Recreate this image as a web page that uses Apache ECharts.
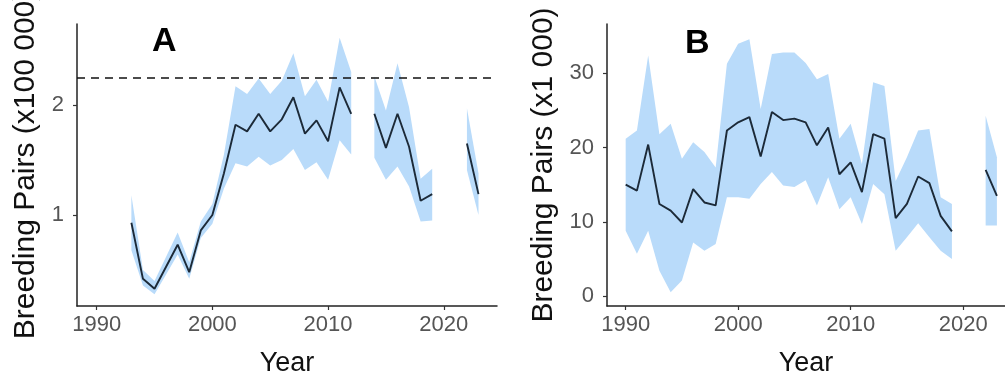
<!DOCTYPE html>
<html><head><meta charset="utf-8">
<script src="https://cdn.jsdelivr.net/npm/echarts@6/dist/echarts.min.js"></script>
<style>html,body{margin:0;padding:0;background:#fff}#c{width:1005px;height:383px}</style>
</head><body><div id="c"></div>
<script>
// ---- Panel A data (x100 000 pairs) ----
const yearsA = [1993,1994,1995,1996,1997,1998,1999,2000,2001,2002,2003,2004,2005,2006,2007,2008,2009,2010,2011,2012,2013,2014,2015,2016,2017,2018,2019,2020,2021,2022,2023];
const pairsA = [0.93,0.42,0.33,0.53,0.73,0.48,0.86,1.00,1.38,1.82,1.76,1.92,1.76,1.87,2.07,1.74,1.86,1.67,2.16,1.92,null,1.92,1.61,1.92,1.62,1.13,1.19,null,null,1.65,1.19];
const lowA   = [0.68,0.36,0.28,0.46,0.64,0.42,0.79,0.92,1.24,1.47,1.44,1.53,1.45,1.50,1.60,1.41,1.48,1.32,1.68,1.55,null,1.52,1.32,1.44,1.26,0.94,0.95,null,null,1.41,1.00];
const highA  = [1.18,0.50,0.40,0.62,0.84,0.57,0.94,1.10,1.55,2.17,2.10,2.24,2.10,2.22,2.47,2.08,2.23,2.03,2.61,2.30,null,2.26,1.95,2.38,1.98,1.33,1.42,null,null,1.97,1.38];
const refLineA = [2.25];
// ---- Panel B data (x1 000 pairs) ----
const yearsB = [1990,1991,1992,1993,1994,1995,1996,1997,1998,1999,2000,2001,2002,2003,2004,2005,2006,2007,2008,2009,2010,2011,2012,2013,2014,2015,2016,2017,2018,2019,2020,2021,2022,2023];
const pairsB = [15.0,14.2,20.4,12.4,11.5,9.9,14.4,12.6,12.2,22.3,23.4,24.1,18.8,24.8,23.7,23.9,23.4,20.3,22.7,16.4,18.0,14.0,21.8,21.2,10.5,12.4,16.1,15.2,10.8,8.7,null,null,17.0,13.5];
const lowB   = [8.8,5.7,8.8,3.4,0.5,2.1,7.2,6.1,7.0,13.3,13.3,13.1,15.1,16.7,14.9,14.7,15.6,12.2,16.0,11.7,13.3,9.7,15.1,13.7,6.1,7.9,9.8,7.9,6.1,5.0,null,null,9.5,9.5];
const highB  = [21.2,22.3,32.4,21.8,23.2,18.5,20.7,19.4,17.3,31.3,34.0,34.6,25.2,32.6,32.8,32.8,31.4,29.2,29.9,21.2,23.2,17.8,28.8,28.3,15.5,18.7,22.3,22.5,13.3,12.4,null,null,24.3,18.7];
// ---- ticks / labels ----
const xTicks = [1990,2000,2010,2020];
const yTicksA = [1,2];
const yTicksB = [0,10,20,30];
const panelLabels = ['A','B'];
const xTitle = 'Year';
const yTitleA = 'Breeding Pairs (x100 000)';
const yTitleB = 'Breeding Pairs (x1 000)';

const FONT = "'Liberation Sans', Arial, sans-serif";
const BAND = '#b9dbfa';
const LINE = '#1c2a38';

function bandSeries(years, low, high, idx) {
  return {
    type: 'custom', xAxisIndex: idx, yAxisIndex: idx, silent: true, z: 1,
    clip: true,
    encode: {x: 0, y: [1, 2]},
    data: years.map((y, i) => [y, low[i] == null ? '-' : low[i], high[i] == null ? '-' : high[i]]),
    renderItem: function (params, api) {
      const i = params.dataIndex;
      if (low[i] == null || (i > 0 && low[i - 1] != null)) return null;
      let j = i;
      while (j + 1 < years.length && low[j + 1] != null) j++;
      const pts = [];
      for (let k = i; k <= j; k++) pts.push(api.coord([years[k], high[k]]));
      for (let k = j; k >= i; k--) pts.push(api.coord([years[k], low[k]]));
      return {type: 'polygon', shape: {points: pts}, style: {fill: BAND, stroke: null}};
    }
  };
}

function lineSeries(years, vals, idx, extra) {
  return Object.assign({
    type: 'line', xAxisIndex: idx, yAxisIndex: idx, silent: true, z: 3,
    symbol: 'none', connectNulls: false,
    lineStyle: {color: LINE, width: 1.9},
    data: years.map((y, i) => [y, vals[i]])
  }, extra || {});
}

function xAxis(idx, min, max) {
  return {
    type: 'value', gridIndex: idx, min: min, max: max,
    name: xTitle, nameLocation: 'middle', nameGap: 44,
    nameTextStyle: {fontFamily: FONT, fontSize: 27, color: '#111'},
    axisLine: {show: true, onZero: false, lineStyle: {color: '#222', width: 1.5}},
    axisTick: {show: true, length: 4, customValues: xTicks, lineStyle: {color: '#333', width: 1.2}},
    axisLabel: {customValues: xTicks, margin: 8, fontFamily: FONT, fontSize: 22, color: '#555',
      formatter: v => String(v)},
    splitLine: {show: false}
  };
}
function yAxis(idx, min, max, ticks, title, gap) {
  return {
    type: 'value', gridIndex: idx, min: min, max: max,
    name: title, nameLocation: 'middle', nameGap: gap, nameRotate: 90,
    nameTextStyle: {fontFamily: FONT, fontSize: 30, color: '#111'},
    axisLine: {show: true, onZero: false, lineStyle: {color: '#222', width: 1.5}},
    axisTick: {show: true, length: 4, customValues: ticks, lineStyle: {color: '#333', width: 1.2}},
    axisLabel: {customValues: ticks, margin: 13, fontFamily: FONT, fontSize: 22, color: '#555',
      formatter: v => String(v)},
    splitLine: {show: false}
  };
}

const chart = echarts.init(document.getElementById('c'), null, {renderer: 'canvas'});
chart.setOption({
  backgroundColor: '#fff',
  animation: false,
  grid: [
    {left: 77, top: 24, width: 420, height: 282, containLabel: false, outerBoundsMode: 'none'},
    {left: 607, top: 24, width: 398, height: 282, containLabel: false, outerBoundsMode: 'none'}
  ],
  xAxis: [xAxis(0, 1988.3, 2024.6), xAxis(1, 1988.34, 2023.72)],
  yAxis: [yAxis(0, 0.173, 2.736, yTicksA, yTitleA, 36), yAxis(1, -1.35, 36.65, yTicksB, yTitleB, 48)],
  graphic: [
    {type: 'text', left: 152, top: 25, style: {text: panelLabels[0], font: "bold 34px " + FONT, fill: '#000'}},
    {type: 'text', left: 685, top: 27, style: {text: panelLabels[1], font: "bold 34px " + FONT, fill: '#000'}}
  ],
  series: [
    bandSeries(yearsA, lowA, highA, 0),
    lineSeries(yearsA, pairsA, 0, {
      markLine: {
        silent: true, symbol: 'none', label: {show: false},
        lineStyle: {color: '#111', width: 1.5, type: [8, 6]},
        data: refLineA.map(v => ({yAxis: v}))
      }
    }),
    bandSeries(yearsB, lowB, highB, 1),
    lineSeries(yearsB, pairsB, 1)
  ]
});
</script>
</body></html>
